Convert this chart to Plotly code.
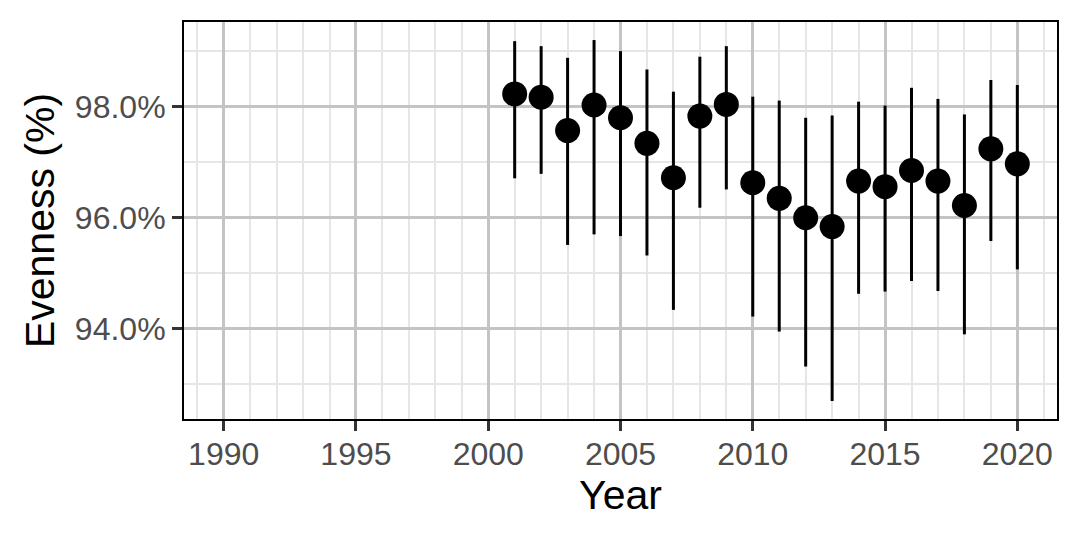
"""
Evenness (%) by year with interval bars, ggplot theme_bw look.
"""

import plotly.graph_objects as go

# ── Data ───────────────────────────────────────────────────────────────────────

years = list(range(2001, 2021))
evenness = [98.23, 98.17, 97.57, 98.03, 97.80, 97.34, 96.72, 97.83, 98.04, 96.63,
            96.35, 96.00, 95.84, 96.66, 96.56, 96.85, 96.66, 96.22, 97.24, 96.97]
upper = [99.18, 99.09, 98.88, 99.20, 99.00, 98.67, 98.27, 98.90, 99.09, 98.18,
         98.11, 97.80, 97.84, 98.09, 98.02, 98.34, 98.14, 97.86, 98.48, 98.39]
lower = [96.71, 96.79, 95.51, 95.70, 95.67, 95.32, 94.34, 96.18, 96.51, 94.22,
         93.95, 93.32, 92.70, 94.63, 94.67, 94.86, 94.68, 93.90, 95.58, 95.07]

# ── Style ──────────────────────────────────────────────────────────────────────

_FONT = "Liberation Sans, Arial, sans-serif"
_MAJOR = "#c4c4c4"
_MINOR = "#e6e6e6"
_TICKTXT = "#4d4d4d"

err_plus = [u - v for u, v in zip(upper, evenness)]
err_minus = [v - l for v, l in zip(evenness, lower)]

fig = go.Figure()
fig.add_trace(go.Scatter(
    x=years, y=evenness, mode="markers",
    marker=dict(size=25, color="black"),
    error_y=dict(type="data", symmetric=False, array=err_plus, arrayminus=err_minus,
                 color="black", thickness=3, width=0),
    showlegend=False,
))

axis_common = dict(
    showline=True, linecolor="black", linewidth=2, mirror=True,
    ticks="outside", ticklen=10, tickwidth=2.5, tickcolor="#333333",
    showgrid=True, gridcolor=_MAJOR, gridwidth=2.5,
    zeroline=False,
    tickfont=dict(size=32, color=_TICKTXT, family=_FONT),
)

fig.update_layout(
    width=1080, height=540,
    paper_bgcolor="white", plot_bgcolor="white",
    font=dict(family=_FONT, color="black"),
    margin=dict(l=184, r=23, t=22, b=121),
    xaxis=dict(
        **axis_common,
        range=[1988.5, 2021.5], tick0=1990, dtick=5,
        ticklabelstandoff=-4,
        minor=dict(dtick=1, showgrid=True, gridcolor=_MINOR, gridwidth=1.5),
        title=dict(text="Year", font=dict(size=41, family=_FONT, color="black"), standoff=8),
    ),
    yaxis=dict(
        **axis_common,
        range=[92.375, 99.525], tick0=0, dtick=2,
        tickformat=".1f", ticksuffix="%",
        minor=dict(dtick=1, showgrid=True, gridcolor=_MINOR, gridwidth=1.5),
        title=dict(text="Evenness (%)", font=dict(size=41, family=_FONT, color="black"), standoff=8),
    ),
)

# drop the page's default body margin so the figure sits at (0, 0)
fig.write_html("out.html", config={"displayModeBar": False},
               post_script="document.body.style.margin='0';")
